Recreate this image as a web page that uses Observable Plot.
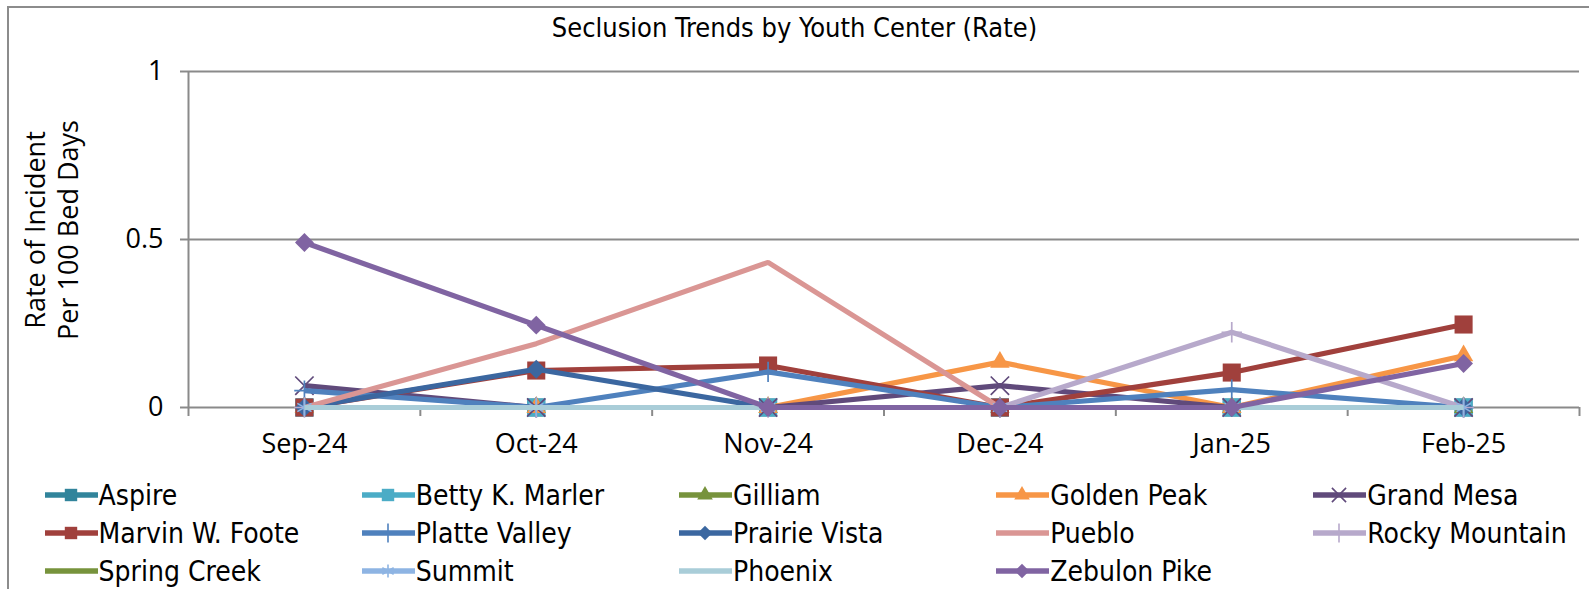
<!DOCTYPE html>
<html><head><meta charset="utf-8">
<script src="https://cdn.jsdelivr.net/npm/d3@7"></script>
<script src="https://cdn.jsdelivr.net/npm/@observablehq/plot@0.6"></script>
<style>
html,body{margin:0;padding:0;background:#fff;overflow:hidden;width:1589px;height:589px;position:relative;}
#frame{position:absolute;left:7px;top:6px;width:1640px;height:640px;border:2px solid #8c8c8c;box-sizing:border-box;}
#title{position:absolute;left:0;top:13px;width:1589px;text-align:center;font-family:"DejaVu Sans Condensed","DejaVu Sans";font-stretch:condensed;font-size:27px;line-height:30px;color:#000;}
#chart{position:absolute;left:0;top:0;}
#ytitle{position:absolute;left:51px;top:230px;transform:translate(-50%,-50%) rotate(-90deg);font-family:"Open Sans";font-size:27px;line-height:33px;text-align:center;white-space:nowrap;color:#000;}
#legend{position:absolute;left:44.6px;top:476px;display:grid;grid-template-columns:repeat(5,317.2px);grid-auto-rows:38px;}
.item{display:flex;align-items:center;font-family:"DejaVu Sans Condensed","DejaVu Sans";font-stretch:condensed;font-size:28px;color:#000;white-space:nowrap;}
.item svg{margin-right:1px;flex:none;}
</style></head>
<body>
<div id="frame"></div>
<div id="title">Seclusion Trends by Youth Center (Rate)</div>
<div id="chart"></div>
<div id="ytitle">Rate of Incident<br>Per 100 Bed Days</div>
<div id="legend"></div>
<script>
const months = ["Sep-24","Oct-24","Nov-24","Dec-24","Jan-25","Feb-25"];
const yTicks = [0, 0.5, 1];

const aspire        = [0, 0, 0, 0, 0, 0];
const bettyKMarler  = [0, 0, 0, 0, 0, 0];
const gilliam       = [0, 0, 0, 0, 0, 0];
const goldenPeak    = [0, 0, 0, 0.135, 0, 0.154];
const grandMesa     = [0.065, 0, 0, 0.065, 0, 0];
const marvinWFoote  = [0, 0.11, 0.125, 0, 0.104, 0.247];
const platteValley  = [0.05, 0, 0.106, 0, 0.053, 0];
const prairieVista  = [0, 0.114, 0, 0, 0, 0];
const pueblo        = [0, 0.19, 0.432, 0, 0, 0];
const rockyMountain = [0, 0, 0, 0, 0.224, 0];
const springCreek   = [0, 0, 0, 0, 0, 0];
const summit        = [0, 0, 0, 0, 0, 0];
const phoenix       = [0, 0, 0, 0, 0, 0];
const zebulonPike   = [0.491, 0.245, 0, 0, 0, 0.131];

const seriesNames = ["Aspire","Betty K. Marler","Gilliam","Golden Peak","Grand Mesa","Marvin W. Foote","Platte Valley","Prairie Vista","Pueblo","Rocky Mountain","Spring Creek","Summit","Phoenix","Zebulon Pike"];
const seriesValues = [aspire,bettyKMarler,gilliam,goldenPeak,grandMesa,marvinWFoote,platteValley,prairieVista,pueblo,rockyMountain,springCreek,summit,phoenix,zebulonPike];
const seriesColors = ["#31849B","#4BACC6","#77933C","#F79646","#604A7B","#A0403C","#4F81BD","#3B67A0","#DA9694","#B7A9CB","#77933C","#8EB4E3","#A9CDD8","#8064A2"];
const seriesSymbols = ["square","square","triangle","triangle","times","square","plus","diamond2","none","plus","none","asterisk","none","diamond2"];

const symbolR = {square: 10.2, triangle: 7.2, diamond2: 8.5, times: 8.4, plus: 6.6, asterisk: 7.8};
const filled = new Set(["square","triangle","diamond2"]);
const gray = "#8a8a8a";

const marks = [
  Plot.gridY(yTicks.filter(d => d > 0), {stroke: gray, strokeOpacity: 1, strokeWidth: 2}),
  Plot.ruleX([-0.5], {y1: 0, y2: 1, stroke: gray, strokeWidth: 2}),
  Plot.ruleY([0], {stroke: gray, strokeWidth: 2}),
  Plot.axisY({ticks: yTicks, tickSize: 8, tickPadding: 17, tickFormat: d => String(d), fontSize: 27, fontFamily: "Open Sans", stroke: gray, strokeWidth: 2, label: null, color: "#000"}),
  Plot.axisX({ticks: d3.range(months.length + 1).map(k => k - 0.5), tickSize: 9, tickFormat: () => "", stroke: gray, strokeWidth: 2, label: null}),
  Plot.axisX({ticks: d3.range(months.length), tickSize: 0, tickPadding: 26, tickFormat: i => months[i], fontSize: 27, fontFamily: "Open Sans", label: null})
];

seriesNames.forEach((name, s) => {
  const rows = seriesValues[s].map((v, i) => ({i, v}));
  const color = seriesColors[s];
  marks.push(Plot.line(rows, {x: "i", y: "v", stroke: color, strokeWidth: 5.2, strokeLinejoin: "miter", strokeLinecap: "butt"}));
  const sym = seriesSymbols[s];
  if (sym !== "none") {
    if (filled.has(sym)) {
      marks.push(Plot.dot(rows, {x: "i", y: "v", symbol: sym, r: symbolR[sym], fill: color, stroke: null}));
    } else {
      marks.push(Plot.dot(rows, {x: "i", y: "v", symbol: sym, r: symbolR[sym], stroke: color, strokeWidth: 1.7, fill: "none"}));
    }
  }
});

const chart = Plot.plot({
  width: 1589,
  height: 470,
  marginLeft: 188,
  marginRight: 10,
  marginTop: 71,
  marginBottom: 63,
  style: {background: "transparent", color: "#000", fontFamily: "Open Sans"},
  x: {type: "linear", domain: [-0.5, months.length - 0.5]},
  y: {domain: [0, 1]},
  marks
});
document.getElementById("chart").appendChild(chart);

// legend
const legend = document.getElementById("legend");
const symMap = {square: d3.symbolSquare, triangle: d3.symbolTriangle, diamond2: d3.symbolDiamond2, times: d3.symbolTimes, plus: d3.symbolPlus, asterisk: d3.symbolAsterisk};
const legendR = {square: 7, triangle: 5.8, diamond2: 6.5, times: 6.5, plus: 6.2, asterisk: 6.2};
seriesNames.forEach((name, s) => {
  const item = document.createElement("div");
  item.className = "item";
  const svg = d3.create("svg").attr("width", 53).attr("height", 30);
  svg.append("line").attr("x1", 0).attr("x2", 52).attr("y1", 15).attr("y2", 15)
    .attr("stroke", seriesColors[s]).attr("stroke-width", 5.5).attr("stroke-linecap", "round");
  const sym = seriesSymbols[s];
  if (sym !== "none") {
    const r = legendR[sym];
    const p = svg.append("path").attr("transform", "translate(26,15)")
      .attr("d", d3.symbol(symMap[sym], Math.PI * r * r)());
    if (filled.has(sym)) p.attr("fill", seriesColors[s]);
    else p.attr("fill", "none").attr("stroke", seriesColors[s]).attr("stroke-width", 1.6);
  }
  item.appendChild(svg.node());
  const t = document.createElement("span");
  t.textContent = name;
  item.appendChild(t);
  legend.appendChild(item);
});
</script>
</body></html>
